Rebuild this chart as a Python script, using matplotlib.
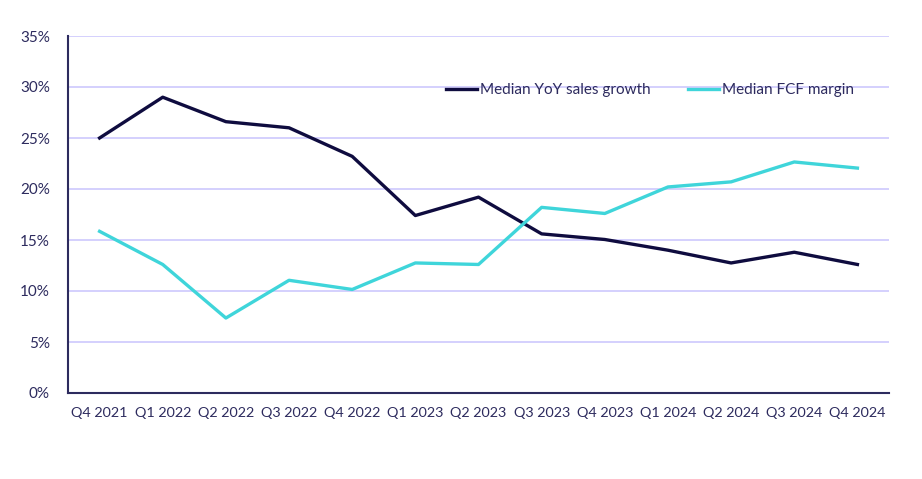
import matplotlib
matplotlib.use("Agg")
import matplotlib.pyplot as plt
from matplotlib.ticker import FuncFormatter

quarters = ["Q4 2021", "Q1 2022", "Q2 2022", "Q3 2022", "Q4 2022", "Q1 2023", "Q2 2023",
            "Q3 2023", "Q4 2023", "Q1 2024", "Q2 2024", "Q3 2024", "Q4 2024"]
sales_growth = [25.0, 29.0, 26.6, 26.0, 23.2, 17.4, 19.2, 15.6, 15.05, 14.0, 12.75, 13.8, 12.6]
fcf_margin = [15.85, 12.6, 7.35, 11.05, 10.15, 12.75, 12.6, 18.2, 17.6, 20.2, 20.7, 22.65, 22.05]

navy = "#0f0c3f"
cyan = "#3fd5da"
grid = "#c9c4fd"
text = "#2d2b5e"

plt.rcParams['font.family'] = ['Lato', 'DejaVu Sans']

fig = plt.figure(figsize=(9.22, 4.79), dpi=100)
ax = fig.add_axes([68/922, 1-393/479, (889-68)/922, (393-36)/479])

x = list(range(len(quarters)))
ax.plot(x, sales_growth, color=navy, lw=2.4, label="Median YoY sales growth", zorder=3)
ax.plot(x, fcf_margin, color=cyan, lw=2.4, label="Median FCF margin", zorder=3)

ax.set_xlim(-0.5, len(quarters) - 0.5)
ax.set_ylim(0, 35)
ax.set_yticks(range(0, 36, 5))
ax.yaxis.set_major_formatter(FuncFormatter(lambda v, p: f"{int(v)}%"))
ax.set_xticks(x)
ax.set_xticklabels(quarters)

ax.grid(axis='y', color=grid, lw=1.1, zorder=0)
ax.set_axisbelow(True)
for s in ["top", "right"]:
    ax.spines[s].set_visible(False)
for s in ["left", "bottom"]:
    ax.spines[s].set_color(text)
    ax.spines[s].set_linewidth(1.5)
ax.tick_params(axis='both', length=0, labelsize=11, colors=text)
ax.tick_params(axis='x', pad=10, labelsize=10.4)
ax.tick_params(axis='y', pad=13)

leg = ax.legend(loc='center', bbox_to_anchor=(0.709, 0.849), ncol=2, frameon=False,
                fontsize=11, handlelength=2.0, handletextpad=0.2, columnspacing=2.5)
for t in leg.get_texts():
    t.set_color(text)

fig.savefig("out.png", dpi=100)
